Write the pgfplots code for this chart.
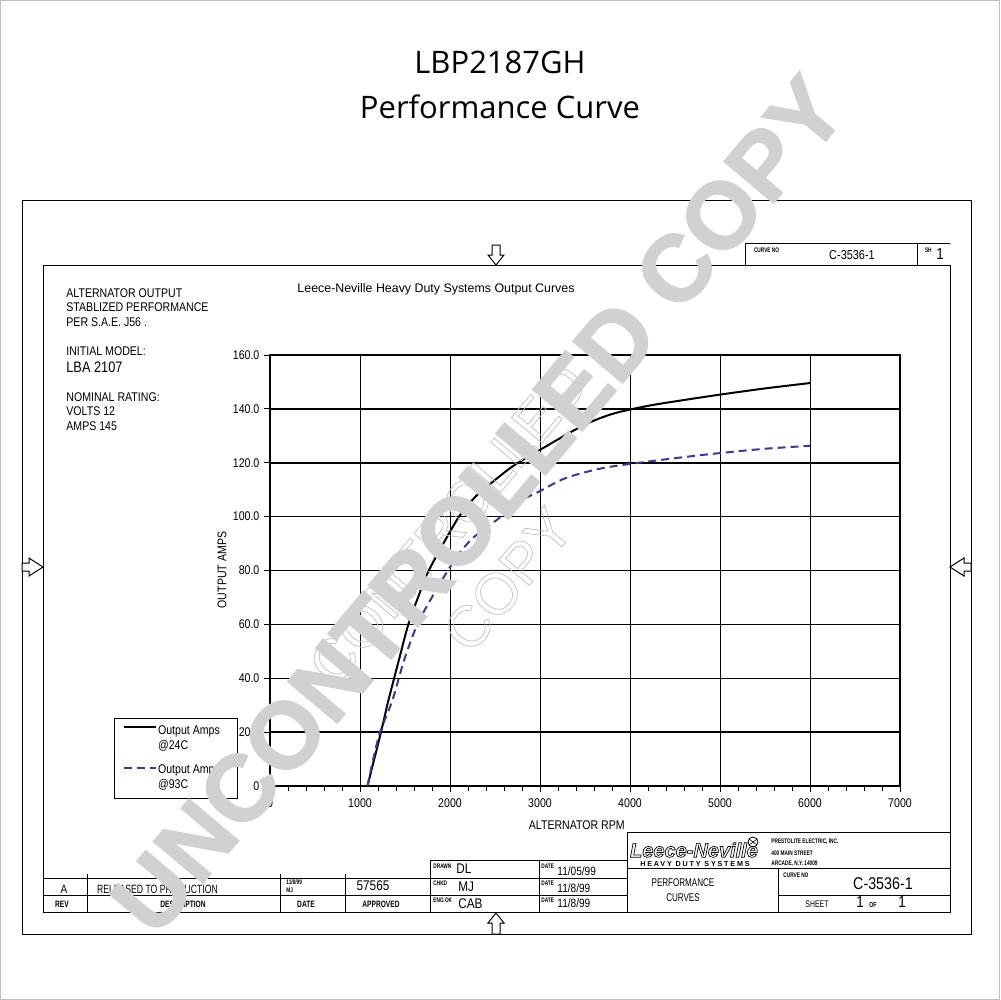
\documentclass[border=0pt]{standalone}
\usepackage{fontspec}
\setmainfont{Liberation Sans}
\newfontfamily\titlefont{Open Sans}
\newfontfamily\cond[FakeStretch=0.84]{Liberation Sans}
\newfontfamily\cad[FakeStretch=0.72]{Liberation Sans}
\newfontfamily\wmfont[FakeBold=1.6]{Liberation Sans Bold}
\usepackage{pgfplots}
\pgfplotsset{compat=1.18}
\pgfplotsset{blueimg/.style={legend image code/.code={\draw[##1] (0bp,-1.05bp) -- (16bp,-1.05bp);}}}
\definecolor{wm}{gray}{0.82}
\definecolor{dashc}{HTML}{3B3A8F}
\newcommand\fs[1]{\fontsize{#1}{1.2\dimexpr#1\relax}\selectfont}
\newcommand\outl[2]{\special{pdf:literal direct q 1 Tr #1}#2\special{pdf:literal direct Q}}
\pgfplotstableread{
x y
1083 0
1230 19.6
1315 31.7
1430 46.5
1537 60
1650 70.5
1748 78.9
1896 88.2
2100 100
2285 107.5
2433 111.8
2693 118.6
2970 124.2
3359 131.7
3581 135.4
3841 138.5
4211 141.2
4600 143.3
5000 145.3
5500 147.6
6000 149.6
}\hot
\pgfplotstableread{
x y
1083 0
1207 18.3
1359 31.7
1489 46.6
1637 60
1822 71.4
1989 80.7
2100 86.3
2248 91.9
2396 95.7
2544 99.4
2804 106.2
2989 109.3
3285 114.3
3693 118
4211 120.5
4700 122.5
5000 123.6
5500 125.2
6000 126.3
}\warm
\begin{document}
\begin{tikzpicture}[x=0.5bp,y=-0.5bp]
\useasboundingbox (0,0) rectangle (1000,1000);
\draw[gray!50, line width=0.5bp] (0.5,0.5) rectangle (999.5,999.5);
% title
\node[font=\titlefont\fs{15.5bp}] at (500,62) {LBP2187GH};
\node[font=\titlefont\fs{15.5bp}] at (500,107) {Performance Curve};
% frames
\draw[line width=0.5bp] (22,200) rectangle (971,934);
\draw[line width=0.5bp] (43,265) rectangle (950,912);
% arrows
\draw[line width=0.5bp, fill=white] (492,245)--(500,245)--(500,255)--(504,255)--(496,265)--(488,255)--(492,255)--cycle;
\draw[line width=0.5bp, fill=white] (492,934)--(500,934)--(500,923)--(504,923)--(496,913)--(488,923)--(492,923)--cycle;
\draw[line width=0.5bp, fill=white] (22,563)--(29,563)--(29,558)--(43,567)--(29,576)--(29,571)--(22,571)--cycle;
\draw[line width=0.5bp, fill=white] (971,563)--(964,563)--(964,558)--(950,567)--(964,576)--(964,571)--(971,571)--cycle;
% top right box
\draw[line width=0.5bp] (745,265)--(745,243)--(950,243);
\draw[line width=0.5bp] (917,243)--(917,265);
\node[anchor=west, font=\cad\bfseries\fs{3.3bp}] at (747,250) {CURVE NO};
\node[font=\cond\fs{6.5bp}] at (852,255) {C-3536-1};
\node[anchor=west, font=\cad\bfseries\fs{3.3bp}] at (918,250) {SH};
\node[font=\cond\fs{8bp}] at (940,254) {1};
% left text block
\begin{scope}[every node/.style={anchor=west, font=\cond\fs{6.3bp}, inner sep=0pt}]
\node at (66,293) {ALTERNATOR OUTPUT};
\node at (66,307) {STABLIZED PERFORMANCE};
\node at (66,322) {PER S.A.E. J56 .};
\node at (66,351) {INITIAL MODEL:};
\node[font=\cond\fs{7.6bp}] at (66,367) {LBA 2107};
\node at (66,397) {NOMINAL RATING:};
\node at (66,411) {VOLTS 12};
\node at (66,426) {AMPS 145};
\end{scope}
\node[font=\fs{6.2bp}] at (436,289) {Leece-Neville Heavy Duty Systems Output Curves};
% plot
\begin{axis}[at={(135bp,-393bp)}, anchor=south west, scale only axis,
  width=315bp, height=215.5bp,
  xmin=0, xmax=7000, ymin=0, ymax=160,
  xtick={0,1000,...,7000}, ytick={0,20,...,160},
  xticklabels={0,1000,2000,3000,4000,5000,6000,7000},
  yticklabels={0,20.0,40.0,60.0,80.0,100.0,120.0,140.0,160.0},
  minor x tick num=4,
  tick pos=left, tick align=outside,
  major tick length=3bp, minor tick length=2.5bp,
  tick style={black, line width=0.5bp},
  xmajorgrids, ymajorgrids,
  x grid style={black, line width=0.45bp},
  y grid style={black, line width=0.75bp},
  axis line style={black, line width=0.6bp},
  ticklabel style={font=\cond\fs{6.3bp}},
  xticklabel style={yshift=0bp},
  yticklabel style={xshift=1.2bp},
  xlabel={ALTERNATOR RPM}, ylabel={OUTPUT AMPS},
  label style={font=\cond\fs{6.3bp}},
  xlabel style={at={(rel axis cs:0.487,-0.0905)}, anchor=center},
  ylabel style={at={(rel axis cs:-0.0762,0.501)}, anchor=center},
  legend style={at={(-0.2476,0.1578)}, anchor=north west, draw=black, line width=0.5bp,
    font=\cond\fs{6.3bp}, inner xsep=4bp, inner ysep=2.6bp, row sep=0bp,
    nodes={inner sep=0.8bp}},
  legend cell align=left,
  legend image code/.code={\draw[#1] (0bp,2.2bp) -- (16bp,2.2bp);},
]
\addplot[black, line width=1bp, smooth, tension=0.5] table[x=x,y=y] {\hot};
\addlegendentry{\makebox[35bp][l]{Output Amps}}
\addlegendimage{empty legend}
\addlegendentry{@24C}
\addplot[dashc, line width=1bp, dash pattern=on 4bp off 2.5bp, smooth, tension=0.5, blueimg] table[x=x,y=y] {\warm};
\addlegendentry{\rule{0pt}{8.8bp}Output Amps}
\addlegendimage{empty legend}
\addlegendentry{@93C}
\end{axis}
% bottom left block
\begin{scope}[line width=0.5bp]
\draw (43,878)--(627,878);
\draw (43,895)--(627,895);
\draw (430,860)--(627,860);
\foreach \xx in {87,280,345} \draw (\xx,874)--(\xx,912);
\foreach \xx in {430,539} \draw (\xx,860)--(\xx,912);
% right block
\draw (627,832)--(950,832);
\draw (627,832)--(627,912);
\draw (627,868)--(950,868);
\draw (778,868)--(778,912);
\draw (778,895)--(950,895);
\end{scope}
\node[font=\cond\fs{6bp}] at (64,889) {A};
\node[anchor=west, font=\cad\fs{6bp}] at (90,889) {RELEASED TO PRODUCTION};
\node[anchor=west, font=\cad\bfseries\fs{3.3bp}, inner sep=0pt] at (286,882) {11/8/99};
\node[anchor=west, font=\cad\bfseries\fs{3.3bp}, inner sep=0pt] at (286,890) {MJ};
\node[font=\cond\fs{7bp}] at (373,886) {57565};
\node[font=\cad\bfseries\fs{4.6bp}] at (62,904) {REV};
\node[font=\cad\bfseries\fs{4.6bp}] at (183,904) {DESCRIPTION};
\node[font=\cad\bfseries\fs{4.6bp}] at (306,904) {DATE};
\node[font=\cad\bfseries\fs{4.6bp}] at (381,904) {APPROVED};
\begin{scope}[every node/.style={anchor=west, font=\cad\bfseries\fs{3.3bp}, inner sep=0pt}]
\node at (433,866) {DRAWN};
\node at (433,883) {CHKD};
\node at (433,900) {ENG OK};
\node at (541,866) {DATE};
\node at (541,883) {DATE};
\node at (541,900) {DATE};
\node at (783,875) {CURVE NO};
\node at (771,842) {PRESTOLITE ELECTRIC, INC.};
\node at (771,853) {400 MAIN STREET};
\node at (771,864) {ARCADE, N.Y. 14009};
\end{scope}
\begin{scope}[every node/.style={anchor=west, font=\cond\fs{7bp}, inner sep=0pt}]
\node at (456,869) {DL};
\node at (458,887) {MJ};
\node at (458,904) {CAB};
\node[font=\cond\fs{6bp}] at (557,871) {11/05/99};
\node[font=\cond\fs{6bp}] at (557,888) {11/8/99};
\node[font=\cond\fs{6bp}] at (557,903) {11/8/99};
\end{scope}
\node[font=\cad\fs{5.6bp}] at (683,883) {PERFORMANCE};
\node[font=\cad\fs{5.6bp}] at (683,898) {CURVES};
\node[font=\cond\fs{8.5bp}] at (883,884) {C-3536-1};
\node[font=\cad\fs{4.8bp}] at (817,904) {SHEET};
\node[font=\cond\fs{8bp}] at (860,902) {1};
\node[font=\cad\bfseries\fs{3.6bp}] at (873,905) {OF};
\node[font=\cond\fs{8bp}] at (902,902) {1};
% logo
\node[font=\bfseries\itshape\fs{10bp}] at (694,850) {\outl{0.35 w 0 G}{Leece-Neville}};
\node[font=\bfseries\fs{3.6bp}\addfontfeature{LetterSpace=25}] at (695,864) {HEAVY DUTY SYSTEMS};
\draw[line width=0.4bp] (753,842) circle (5);
\draw[line width=0.3bp] (749,839)--(757,845) (749,845)--(757,839);
% outlined watermark
\node[rotate=50, font=\fs{29bp}] at (448,524) {\outl{0.35 w 0.75 G}{CONTROLLED}};
\node[rotate=50, font=\fs{29bp}] at (508,580) {\outl{0.35 w 0.75 G}{COPY}};
% big watermark
\node[rotate=50, text=wm, font=\wmfont\fs{47bp}] at (478,505) {UNCONTROLLED COPY};
\end{tikzpicture}
\end{document}
